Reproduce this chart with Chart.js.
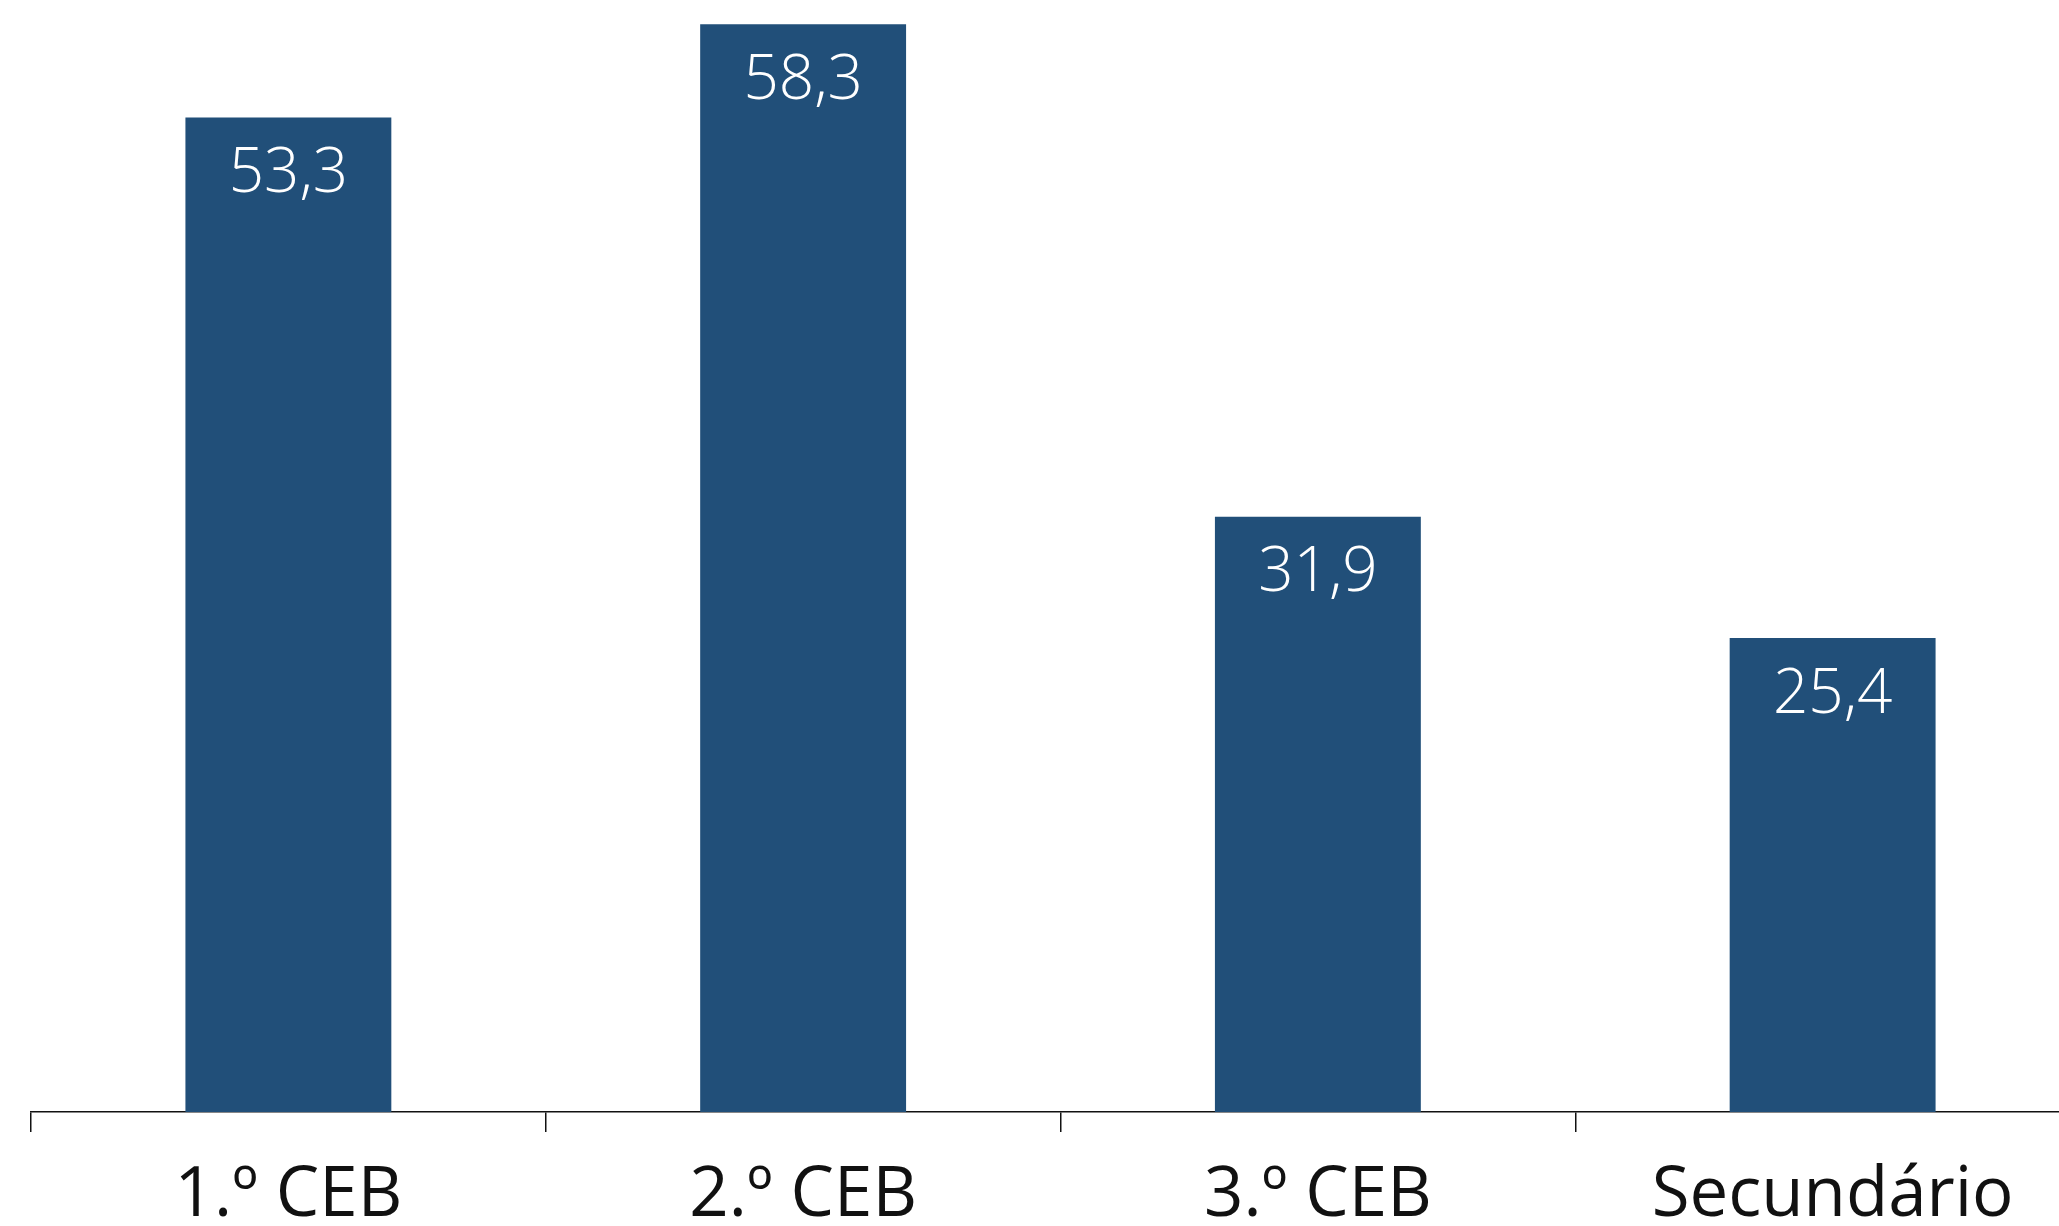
<!DOCTYPE html>
<html>
<head>
<meta charset="utf-8">
<script src="https://cdn.jsdelivr.net/npm/chart.js@4/dist/chart.umd.min.js"></script>
<style>
html,body{margin:0;padding:0;background:#fff;overflow:hidden;}
#wrap{width:2122px;height:1226px;position:relative;}
</style>
</head>
<body>
<div id="wrap"><canvas id="c"></canvas></div>
<script>
const categories = ["1.º CEB", "2.º CEB", "3.º CEB", "Secundário"];
const values = [53.3, 58.3, 31.9, 25.4];
const valueLabels = ["53,3", "58,3", "31,9", "25,4"];

const barLabelPlugin = {
  id: 'barLabels',
  afterDatasetsDraw(chart) {
    const ctx = chart.ctx;
    const meta = chart.getDatasetMeta(0);
    ctx.save();
    ctx.fillStyle = '#ffffff';
    ctx.font = '300 62px "Open Sans"';
    ctx.textAlign = 'center';
    ctx.textBaseline = 'middle';
    meta.data.forEach((bar, i) => {
      ctx.fillText(valueLabels[i], bar.x, bar.y + 57);
    });
    ctx.restore();
  }
};

new Chart(document.getElementById('c'), {
  type: 'bar',
  data: {
    labels: categories,
    datasets: [{
      data: values,
      backgroundColor: '#214f79',
      barPercentage: 0.4,
      categoryPercentage: 1.0
    }]
  },
  options: {
    responsive: true,
    maintainAspectRatio: false,
    animation: false,
    layout: { padding: { left: 31, right: 32, top: 0, bottom: 0 } },
    plugins: { legend: { display: false }, tooltip: { enabled: false } },
    scales: {
      y: { display: false, min: 0, max: 59.6 },
      x: {
        afterFit(scale) { scale.height = 114; },
        border: { display: true, color: '#111111', width: 1.5 },
        grid: {
          offset: true,
          drawOnChartArea: false,
          drawTicks: true,
          tickLength: 20,
          color: '#111111',
          lineWidth: 1.5
        },
        ticks: {
          color: '#111111',
          padding: 23,
          font: { family: '"Open Sans"', size: 69, weight: '400' }
        }
      }
    }
  },
  plugins: [barLabelPlugin]
});
</script>
</body>
</html>
